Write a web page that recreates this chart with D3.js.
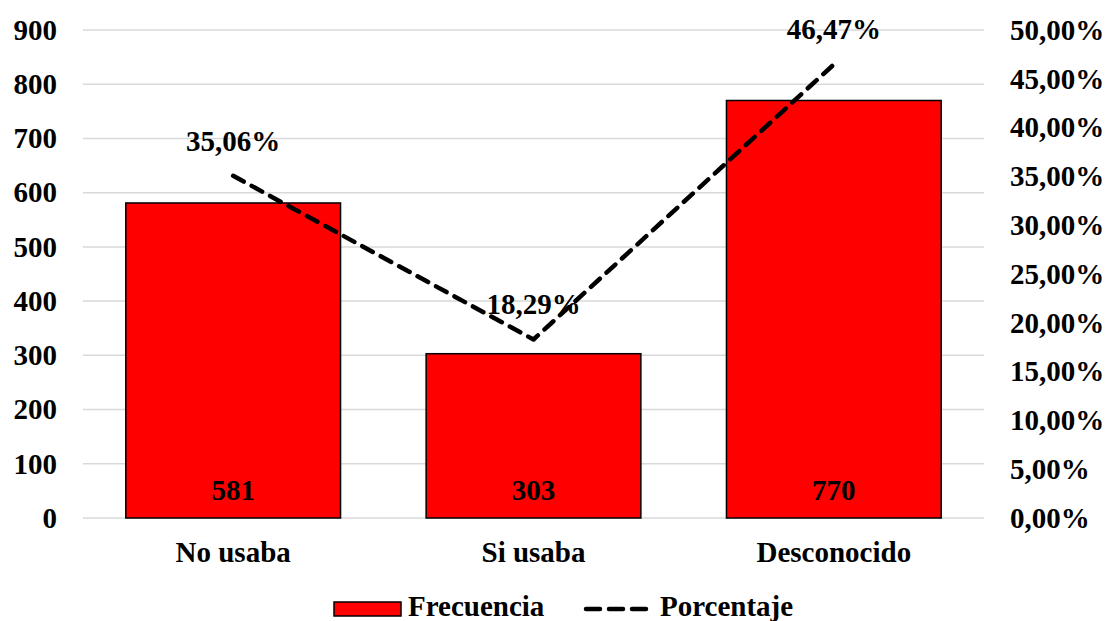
<!DOCTYPE html>
<html><head><meta charset="utf-8">
<script src="https://cdn.jsdelivr.net/npm/d3@7"></script>
<style>body{margin:0;background:#fff}svg text{font-family:"Liberation Serif","Times New Roman",serif;font-weight:bold;fill:#000}</style>
</head><body><svg id="c" width="1106" height="621"></svg>
<script>
const categories = ["No usaba", "Si usaba", "Desconocido"];
const frecuencia = [581, 303, 770];
const porcentaje = [35.06, 18.29, 46.47];
const leftTicks = [0,100,200,300,400,500,600,700,800,900];
const rightTicks = [0,5,10,15,20,25,30,35,40,45,50];

const FS = "29px";
const svg = d3.select("#c");
const L = 83, R = 984, T = 30, B = 518;
const x = d3.scaleBand().domain(categories).range([L, R]).paddingInner(0.285).paddingOuter(0.1425);
const y = d3.scaleLinear().domain([0, 900]).range([B, T]);
const y2 = d3.scaleLinear().domain([0, 50]).range([B, T]);
const fmt = v => v.toFixed(2).replace(".", ",") + "%";

// gridlines
svg.append("g").selectAll("line").data(leftTicks).join("line")
  .attr("x1", L).attr("x2", R).attr("y1", d => y(d)).attr("y2", d => y(d))
  .attr("stroke", "#d9d9d9").attr("stroke-width", 1.5);

// left axis
const ax = svg.append("g").attr("transform", `translate(${L},0)`)
  .call(d3.axisLeft(y).tickValues(leftTicks).tickSize(0).tickPadding(26));
ax.select(".domain").remove();
ax.selectAll("text").style("font-size", FS).style("font-family", "Liberation Serif");

// right axis
const ar = svg.append("g").attr("transform", `translate(${R},0)`)
  .call(d3.axisRight(y2).tickValues(rightTicks).tickSize(0).tickPadding(26).tickFormat(fmt));
ar.select(".domain").remove();
ar.selectAll("text").style("font-size", FS).style("font-family", "Liberation Serif");

// category axis
const ab = svg.append("g").attr("transform", `translate(0,${B})`)
  .call(d3.axisBottom(x).tickSize(0).tickPadding(23));
ab.select(".domain").remove();
ab.selectAll("text").style("font-size", FS).style("font-family", "Liberation Serif");

// bars
svg.append("g").selectAll("rect").data(frecuencia).join("rect")
  .attr("x", (d,i) => x(categories[i])).attr("width", x.bandwidth())
  .attr("y", d => y(d)).attr("height", d => B - y(d))
  .attr("fill", "#ff0000").attr("stroke", "#000").attr("stroke-width", 1.5);

svg.append("g").selectAll("text").data(frecuencia).join("text")
  .attr("x", (d,i) => x(categories[i]) + x.bandwidth()/2).attr("y", B - 18)
  .attr("text-anchor", "middle").style("font-size", FS).text(d => d);

// line
const line = d3.line().x((d,i) => x(categories[i]) + x.bandwidth()/2).y(d => y2(d));
svg.append("path").datum(porcentaje).attr("d", line).attr("fill", "none")
  .attr("stroke", "#000").attr("stroke-width", 4.5).attr("stroke-dasharray", "12,9")
  .attr("stroke-linecap", "round").attr("stroke-linejoin", "round");

svg.append("g").selectAll("text").data(porcentaje).join("text")
  .attr("x", (d,i) => x(categories[i]) + x.bandwidth()/2).attr("y", d => y2(d) - 25)
  .attr("text-anchor", "middle").style("font-size", FS).text(fmt);

// legend
const lg = svg.append("g");
lg.append("rect").attr("x", 334).attr("y", 602).attr("width", 67).attr("height", 14)
  .attr("fill", "#ff0000").attr("stroke", "#000").attr("stroke-width", 1.5);
lg.append("text").attr("x", 408).attr("y", 616).style("font-size", FS).text("Frecuencia");
lg.append("line").attr("x1", 586).attr("x2", 647).attr("y1", 609).attr("y2", 609)
  .attr("stroke", "#000").attr("stroke-width", 4.5).attr("stroke-dasharray", "14,9").attr("stroke-linecap", "round");
lg.append("text").attr("x", 660).attr("y", 616).style("font-size", FS).text("Porcentaje");
</script></body></html>
